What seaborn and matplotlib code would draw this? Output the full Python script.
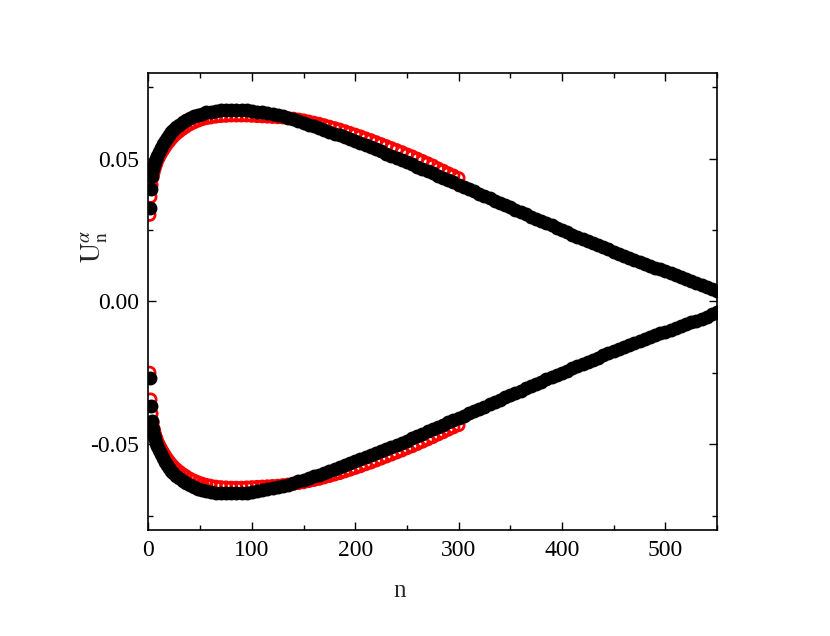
import matplotlib
matplotlib.use("Agg")
import matplotlib.pyplot as plt
import seaborn as sns
from matplotlib.ticker import MultipleLocator, FormatStrFormatter

# --- data: U_n^alpha against n ---
# black series (n = 1 .. 550), upper and lower branch
n_black = [1, 2, 3, 4, 5, 6, 7, 8, 10, 12, 14, 16, 18, 20, 22, 24, 27, 30, 33, 36,
           40, 44, 48, 52, 56, 60, 65, 70, 75,
           80, 85, 90, 95, 100, 105, 110, 115, 120, 125, 130, 135, 140, 145, 150,
           155, 160, 165, 170, 175, 180, 185, 190, 195, 200, 205, 210, 215, 220,
           225, 230, 235, 240, 245, 250, 255, 260, 265, 270, 275, 280, 285, 290,
           295, 300, 305, 310, 315, 320, 325, 330, 335, 340, 345, 350, 355, 360,
           365, 370, 375, 380, 385, 390, 395, 400, 405, 410, 415, 420, 425, 430,
           435, 440, 445, 450, 455, 460, 465, 470, 475, 480, 485, 490, 495, 500,
           505, 510, 515, 520, 525, 530, 535, 540, 545, 550]
u_black_up = [0.0326, 0.0393, 0.0438, 0.0462, 0.0478, 0.0490, 0.0500, 0.0509, 0.0524,
              0.0538, 0.0551, 0.0563, 0.0574, 0.0584, 0.0592, 0.0600, 0.0610, 0.0619,
              0.0627, 0.0634, 0.0642, 0.0648, 0.0654, 0.0658, 0.0662, 0.0665, 0.0668,
              0.0670, 0.0671,
              0.0671, 0.0671, 0.0670, 0.0669, 0.0667, 0.0665, 0.0662, 0.0659, 0.0656,
              0.0652, 0.0648, 0.0643, 0.0638, 0.0632, 0.0625, 0.0619, 0.0613, 0.0607,
              0.0600, 0.0594, 0.0588, 0.0582, 0.0575, 0.0568, 0.0561, 0.0554, 0.0547,
              0.0540, 0.0533, 0.0526, 0.0518, 0.0511, 0.0503, 0.0496, 0.0488, 0.0480,
              0.0472, 0.0464, 0.0456, 0.0448, 0.0440, 0.0432, 0.0424, 0.0417, 0.0409,
              0.0401, 0.0393, 0.0385, 0.0377, 0.0369, 0.0361, 0.0353, 0.0345, 0.0337,
              0.0329, 0.0321, 0.0313, 0.0305, 0.0297, 0.0289, 0.0281, 0.0274, 0.0266,
              0.0258, 0.0250, 0.0242, 0.0234, 0.0227, 0.0219, 0.0212, 0.0204, 0.0197,
              0.0189, 0.0182, 0.0174, 0.0167, 0.0160, 0.0153, 0.0146, 0.0139, 0.0132,
              0.0125, 0.0118, 0.0112, 0.0105, 0.0098, 0.0092, 0.0085, 0.0078, 0.0072,
              0.0065, 0.0058, 0.0051, 0.0045, 0.0038]
u_black_low = [-0.0269, -0.0366, -0.0417, -0.0448, -0.0468, -0.0483, -0.0495, -0.0505,
               -0.0521, -0.0535, -0.0549, -0.0561, -0.0572, -0.0583, -0.0592, -0.0600,
               -0.0610, -0.0619, -0.0627, -0.0634, -0.0642, -0.0649, -0.0655, -0.0659,
               -0.0663, -0.0666, -0.0669, -0.0671, -0.0672,
               -0.0672, -0.0671, -0.0670, -0.0669, -0.0667, -0.0664, -0.0661, -0.0658,
               -0.0654, -0.0650, -0.0646, -0.0641, -0.0636, -0.0630, -0.0624, -0.0618,
               -0.0612, -0.0606, -0.0599, -0.0593, -0.0587, -0.0581, -0.0574, -0.0567,
               -0.0560, -0.0553, -0.0546, -0.0539, -0.0532, -0.0525, -0.0518, -0.0510,
               -0.0503, -0.0495, -0.0487, -0.0479, -0.0471, -0.0463, -0.0455, -0.0447,
               -0.0439, -0.0431, -0.0423, -0.0416, -0.0408, -0.0400, -0.0392, -0.0384,
               -0.0376, -0.0368, -0.0360, -0.0352, -0.0344, -0.0336, -0.0328, -0.0320,
               -0.0312, -0.0304, -0.0296, -0.0288, -0.0281, -0.0273, -0.0265, -0.0257,
               -0.0250, -0.0242, -0.0234, -0.0227, -0.0219, -0.0212, -0.0204, -0.0197,
               -0.0189, -0.0182, -0.0175, -0.0168, -0.0161, -0.0154, -0.0147, -0.0140,
               -0.0133, -0.0126, -0.0119, -0.0112, -0.0106, -0.0099, -0.0093, -0.0086,
               -0.0080, -0.0073, -0.0067, -0.0060, -0.0054, -0.0045, -0.0038]

# red series (n = 1 .. 300), upper and lower branch
n_red = [1, 2, 3, 4, 5, 6, 7, 8, 10, 12, 14, 16, 18, 20, 22, 24, 27, 30, 33, 36,
         40, 44, 48, 52, 56, 60, 65, 70, 75,
         80, 85, 90, 95, 100, 105, 110, 115, 120, 125, 130, 135, 140, 145, 150,
         155, 160, 165, 170, 175, 180, 185, 190, 195, 200, 205, 210, 215, 220,
         225, 230, 235, 240, 245, 250, 255, 260, 265, 270, 275, 280, 285, 290,
         295, 300]
u_red_up = [0.0303, 0.0366, 0.0408, 0.0434, 0.0452, 0.0466, 0.0477, 0.0487, 0.0503,
            0.0517, 0.0529, 0.0540, 0.0551, 0.0560, 0.0569, 0.0577, 0.0587, 0.0596,
            0.0604, 0.0611, 0.0620, 0.0627, 0.0633, 0.0638, 0.0642, 0.0644, 0.0647,
            0.0649, 0.0650,
            0.0651, 0.0651, 0.0651, 0.0651, 0.0650, 0.0649, 0.0648, 0.0647, 0.0646,
            0.0645, 0.0644, 0.0642, 0.0640, 0.0637, 0.0634, 0.0630, 0.0626, 0.0622,
            0.0617, 0.0612, 0.0607, 0.0602, 0.0596, 0.0590, 0.0584, 0.0578, 0.0571,
            0.0565, 0.0558, 0.0551, 0.0544, 0.0537, 0.0530, 0.0523, 0.0515, 0.0508,
            0.0500, 0.0492, 0.0484, 0.0476, 0.0466, 0.0458, 0.0449, 0.0441, 0.0432]
u_red_low = [-0.0249, -0.0343, -0.0393, -0.0425, -0.0446, -0.0461, -0.0473, -0.0483,
             -0.0500, -0.0514, -0.0527, -0.0539, -0.0550, -0.0560, -0.0569, -0.0577,
             -0.0587, -0.0596, -0.0604, -0.0611, -0.0620, -0.0627, -0.0633, -0.0638,
             -0.0642, -0.0645, -0.0648, -0.0650, -0.0651,
             -0.0652, -0.0652, -0.0652, -0.0651, -0.0650, -0.0649, -0.0648, -0.0647,
             -0.0646, -0.0645, -0.0643, -0.0641, -0.0639, -0.0636, -0.0633, -0.0629,
             -0.0625, -0.0621, -0.0616, -0.0611, -0.0606, -0.0601, -0.0595, -0.0589,
             -0.0583, -0.0577, -0.0570, -0.0564, -0.0557, -0.0550, -0.0543, -0.0536,
             -0.0529, -0.0522, -0.0514, -0.0507, -0.0499, -0.0491, -0.0483, -0.0475,
             -0.0466, -0.0458, -0.0449, -0.0441, -0.0433]

x_ticks = [0, 100, 200, 300, 400, 500]
y_ticks = [-0.05, 0.00, 0.05]

# --- style ---
sns.set_style("ticks")
plt.rcParams['font.family'] = ['Liberation Serif', 'DejaVu Serif']
plt.rcParams['mathtext.fontset'] = 'stix'
plt.rcParams['axes.unicode_minus'] = False

fig = plt.figure(figsize=(8.3, 6.36), dpi=100)
ax = fig.add_axes([0.1789, 0.1667, 0.685, 0.7186])

# red open circles first, black filled circles drawn over them
open_kw = dict(marker='o', s=64, linewidth=2.0, facecolor='none', edgecolor='red', legend=False, ax=ax)
full_kw = dict(marker='o', s=81, linewidth=1.0, color='black', edgecolor='black', legend=False, ax=ax)
sns.scatterplot(x=n_red, y=u_red_up, **open_kw)
sns.scatterplot(x=n_red, y=u_red_low, **open_kw)
sns.scatterplot(x=n_black, y=u_black_up, **full_kw)
sns.scatterplot(x=n_black, y=u_black_low, **full_kw)

ax.set_xlim(0, 550)
ax.set_ylim(-0.08, 0.08)
ax.set_xticks(x_ticks)
ax.set_yticks(y_ticks)
ax.xaxis.set_minor_locator(MultipleLocator(50))
ax.yaxis.set_minor_locator(MultipleLocator(0.025))
ax.yaxis.set_major_formatter(FormatStrFormatter('%.2f'))

ax.tick_params(which='both', direction='in', top=True, right=True, width=1.0,
               colors='black', labelsize=17)
ax.tick_params(which='major', length=6, pad=7)
ax.tick_params(which='minor', length=3.5)
for sp in ax.spines.values():
    sp.set_linewidth(1.2)
    sp.set_color('black')

ax.set_xlabel('n', fontsize=18)
ax.set_ylabel(r'$\mathrm{U}_{\mathrm{n}}^{\alpha}$', fontsize=20)
ax.xaxis.set_label_coords(0.4424, -0.11)
ax.yaxis.set_label_coords(-0.068, 0.62)

fig.savefig('out.png', dpi=100)
